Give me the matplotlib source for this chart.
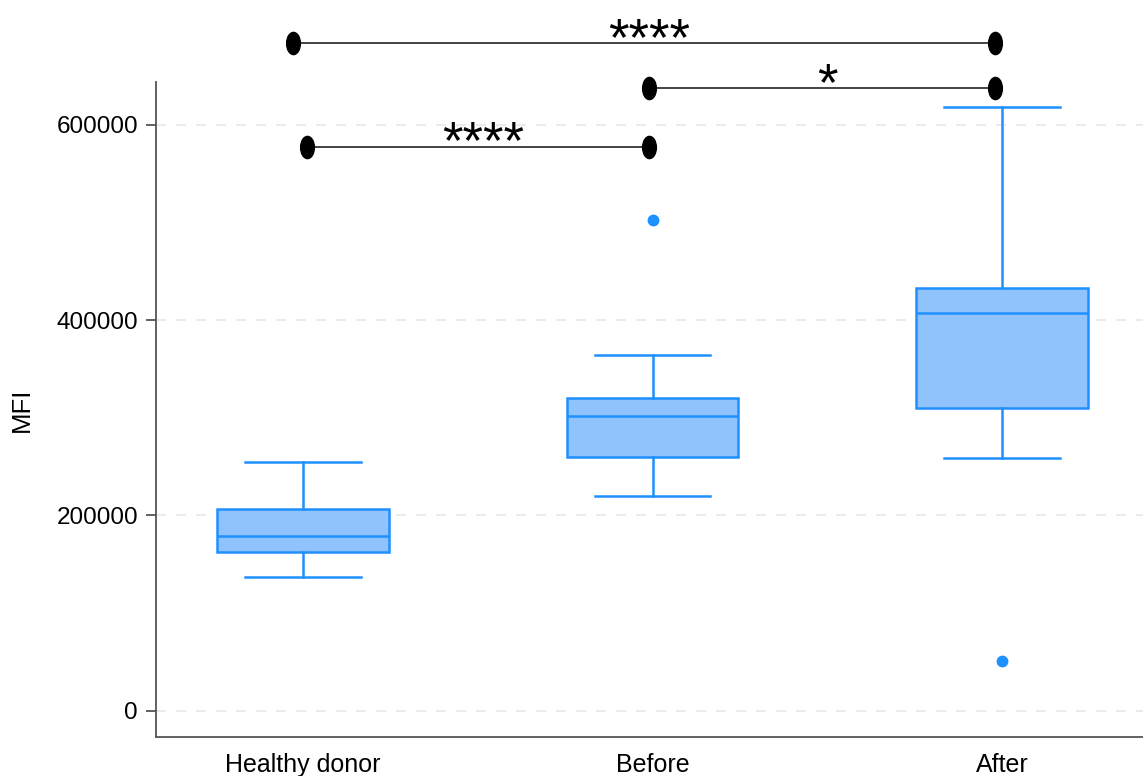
import matplotlib

matplotlib.use("Agg")
import matplotlib.pyplot as plt
from matplotlib.path import Path


GROUPS = ["Healthy donor", "Before", "After"]
WHISKER_LOW = [137000, 220000, 259000]
Q1 = [163000, 260000, 310000]
MEDIAN = [179000, 302000, 407000]
Q3 = [207000, 320000, 433000]
WHISKER_HIGH = [255000, 364000, 618000]
OUTLIERS = [[], [502000], [51000]]

# significance brackets: (x start, x end, y, label)
BRACKET_X0 = [0.01, -0.03, 0.99]
BRACKET_X1 = [0.99, 1.98, 1.98]
BRACKET_Y = [577000, 683000, 637000]
BRACKET_LABEL = ["****", "****", "*"]

Y_TICKS = [0, 200000, 400000, 600000]

BOX_EDGE = "#1e90ff"
BOX_FILL = "#90c3fb"


def main() -> None:
    plt.rcParams.update({"font.family": ["Liberation Sans", "DejaVu Sans"]})

    fig = plt.figure(figsize=(11.43, 7.76), dpi=100)
    ax = fig.add_axes([0.1365, 0.0503, 0.8635, 0.844])

    stats = []
    for i, name in enumerate(GROUPS):
        stats.append(
            {
                "label": name,
                "whislo": WHISKER_LOW[i],
                "q1": Q1[i],
                "med": MEDIAN[i],
                "q3": Q3[i],
                "whishi": WHISKER_HIGH[i],
                "fliers": OUTLIERS[i],
            }
        )

    lw = 1.8
    ax.bxp(
        stats,
        positions=range(len(GROUPS)),
        widths=0.49,
        patch_artist=True,
        boxprops=dict(facecolor=BOX_FILL, edgecolor=BOX_EDGE, linewidth=lw),
        medianprops=dict(color=BOX_EDGE, linewidth=lw),
        whiskerprops=dict(color=BOX_EDGE, linewidth=lw),
        capprops=dict(color=BOX_EDGE, linewidth=lw),
        capwidths=0.33,
        flierprops=dict(marker="o", markerfacecolor=BOX_EDGE, markeredgecolor=BOX_EDGE, markersize=7.5),
        zorder=3,
    )

    circ = Path.unit_circle()
    ellipse = Path(circ.vertices * [0.62, 1.0], circ.codes)
    for x0, x1, y, lab in zip(BRACKET_X0, BRACKET_X1, BRACKET_Y, BRACKET_LABEL):
        ax.plot([x0, x1], [y, y], color="#222222", linewidth=1.2, marker=ellipse,
                markersize=16, markerfacecolor="black", markeredgecolor="black",
                clip_on=False, zorder=5)
        ax.annotate(lab, xy=((x0 + x1) / 2 + 0.015, y), xytext=(0, -16),
                    textcoords="offset points", ha="center", va="bottom",
                    fontsize=38, annotation_clip=False)

    ax.set_xlim(-0.4206, 2.403)
    ax.set_ylim(-26600, 643500)
    ax.set_yticks(Y_TICKS)
    ax.set_yticklabels([str(v) for v in Y_TICKS])
    ax.set_xticks(range(len(GROUPS)))
    ax.set_xticklabels(GROUPS)
    ax.set_ylabel("MFI", fontsize=18.5, labelpad=16)

    ax.yaxis.grid(True, color="#e8e8e8", linestyle=(0, (6, 6)), linewidth=1.2, zorder=0)
    ax.set_axisbelow(True)
    for side in ["top", "right"]:
        ax.spines[side].set_visible(False)
    for side in ["left", "bottom"]:
        ax.spines[side].set_color("#555555")
        ax.spines[side].set_linewidth(1.3)
    ax.tick_params(axis="y", labelsize=17.5, length=7, width=1.3, color="#555555", pad=6)
    ax.tick_params(axis="x", labelsize=18, length=0, pad=11.5)

    fig.savefig("out.png", dpi=100)
    plt.close(fig)


if __name__ == "__main__":
    main()
